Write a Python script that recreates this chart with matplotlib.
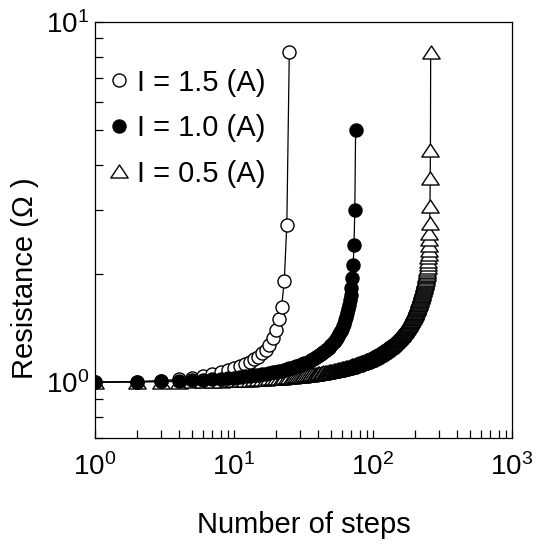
import numpy as np
import matplotlib
matplotlib.use('Agg')
import matplotlib.pyplot as plt
from matplotlib.lines import Line2D
from matplotlib.path import Path
from matplotlib.ticker import LogLocator, NullFormatter

plt.rcParams['font.family'] = ['Liberation Sans', 'DejaVu Sans']

# Resistance (ohm) at each step (step = 1, 2, 3, ...)
r_15 = [1.000, 1.004, 1.010, 1.018, 1.028, 1.040, 1.053, 1.067, 1.081, 1.095,
        1.109, 1.124, 1.140, 1.158, 1.178, 1.202, 1.232, 1.272, 1.330, 1.400,
        1.495, 1.615, 1.910, 2.740, 8.260]

r_10 = [1.000, 1.003, 1.006, 1.009, 1.013, 1.016, 1.019, 1.023, 1.026, 1.030,
        1.033, 1.037, 1.040, 1.044, 1.048, 1.052, 1.056, 1.060, 1.064, 1.069,
        1.073, 1.077, 1.082, 1.087, 1.092, 1.096, 1.101, 1.107, 1.112, 1.117,
        1.123, 1.128, 1.134, 1.140, 1.146, 1.153, 1.159, 1.166, 1.173, 1.180,
        1.188, 1.196, 1.203, 1.212, 1.220, 1.229, 1.239, 1.248, 1.258, 1.269,
        1.280, 1.291, 1.303, 1.316, 1.329, 1.343, 1.358, 1.374, 1.391, 1.409,
        1.430, 1.455, 1.485, 1.520, 1.555, 1.595, 1.640, 1.690, 1.750, 1.830,
        1.950, 2.110, 2.400, 3.000, 5.020]

r_05 = [1.000, 1.001, 1.003, 1.004, 1.005, 1.007, 1.008, 1.009, 1.011, 1.012,
        1.014, 1.015, 1.017, 1.018, 1.020, 1.021, 1.022, 1.024, 1.025, 1.027,
        1.028, 1.030, 1.031, 1.033, 1.034, 1.036, 1.037, 1.039, 1.040, 1.042,
        1.043, 1.045, 1.046, 1.048, 1.050, 1.051, 1.053, 1.054, 1.056, 1.058,
        1.059, 1.061, 1.063, 1.064, 1.066, 1.068, 1.069, 1.071, 1.073, 1.074,
        1.076, 1.078, 1.080, 1.081, 1.083, 1.085, 1.087, 1.089, 1.090, 1.092,
        1.094, 1.096, 1.098, 1.100, 1.101, 1.103, 1.105, 1.107, 1.109, 1.111,
        1.113, 1.115, 1.117, 1.119, 1.121, 1.123, 1.125, 1.127, 1.129, 1.131,
        1.133, 1.135, 1.137, 1.139, 1.141, 1.143, 1.146, 1.148, 1.150, 1.152,
        1.154, 1.156, 1.159, 1.161, 1.163, 1.166, 1.168, 1.170, 1.173, 1.175,
        1.177, 1.180, 1.182, 1.185, 1.187, 1.190, 1.192, 1.195, 1.197, 1.200,
        1.202, 1.205, 1.208, 1.210, 1.213, 1.216, 1.218, 1.221, 1.224, 1.226,
        1.229, 1.232, 1.235, 1.238, 1.241, 1.244, 1.246, 1.249, 1.252, 1.255,
        1.258, 1.261, 1.264, 1.268, 1.271, 1.274, 1.277, 1.280, 1.284, 1.287,
        1.290, 1.293, 1.297, 1.300, 1.304, 1.307, 1.311, 1.314, 1.318, 1.321,
        1.325, 1.329, 1.332, 1.336, 1.340, 1.344, 1.348, 1.352, 1.355, 1.359,
        1.363, 1.367, 1.371, 1.376, 1.380, 1.384, 1.389, 1.393, 1.397, 1.402,
        1.406, 1.411, 1.415, 1.420, 1.425, 1.430, 1.435, 1.439, 1.444, 1.449,
        1.454, 1.459, 1.465, 1.470, 1.476, 1.481, 1.487, 1.492, 1.498, 1.503,
        1.509, 1.515, 1.521, 1.527, 1.534, 1.540, 1.546, 1.552, 1.559, 1.565,
        1.571, 1.578, 1.585, 1.592, 1.599, 1.606, 1.614, 1.621, 1.629, 1.636,
        1.644, 1.652, 1.660, 1.669, 1.677, 1.686, 1.695, 1.704, 1.713, 1.722,
        1.731, 1.741, 1.751, 1.761, 1.771, 1.782, 1.792, 1.803, 1.814, 1.826,
        1.837, 1.849, 1.861, 1.874, 1.886, 1.899, 1.912, 1.926, 1.940, 1.956,
        1.971, 1.987, 2.003, 2.019, 2.036, 2.060, 2.090, 2.130, 2.170, 2.220,
        2.270, 2.330, 2.400, 2.490, 2.600, 2.770, 3.090, 3.690, 4.420, 8.260]

labels = ['I = 1.5 (A)', 'I = 1.0 (A)', 'I = 0.5 (A)']
x_ticks = [1, 10, 100, 1000]
x_tick_labels = [r'$\mathregular{10^{0}}$', r'$\mathregular{10^{1}}$',
                 r'$\mathregular{10^{2}}$', r'$\mathregular{10^{3}}$']
y_ticks = [1, 10]
y_tick_labels = [r'$\mathregular{10^{0}}$', r'$\mathregular{10^{1}}$']

fig = plt.figure(figsize=(5.36, 5.44), dpi=100)
ax = fig.add_axes([0.1772, 0.1949, 0.778, 0.7647])

# flat triangle (wider than tall), closed so it gets a white fill
tri = Path([(-1, -0.75), (1, -0.75), (0, 0.75), (-1, -0.75)], closed=True)

circle_size = 9.4
tri_size = 12.5
edge = 1.0

# draw order: 0.5 A at the bottom, 1.0 A on top
series = [
    (r_05, tri, 'white', tri_size, 1),
    (r_15, 'o', 'white', circle_size, 2),
    (r_10, 'o', 'black', circle_size, 3),
]
for values, marker, face, size, z in series:
    steps = np.arange(1, len(values) + 1)
    ax.plot(steps, values, color='black', linewidth=0.9, marker=marker,
            markersize=size, markerfacecolor=face, markeredgecolor='black',
            markeredgewidth=edge, zorder=z)

ax.set_xscale('log')
ax.set_yscale('log')
ax.set_xlim(1, 1000)
ax.set_ylim(0.7, 10)

ax.set_xticks(x_ticks)
ax.set_xticklabels(x_tick_labels)
ax.set_yticks(y_ticks)
ax.set_yticklabels(y_tick_labels)
ax.xaxis.set_minor_locator(LogLocator(base=10, subs=np.arange(2, 10)))
ax.yaxis.set_minor_locator(LogLocator(base=10, subs=np.arange(2, 10)))
ax.xaxis.set_minor_formatter(NullFormatter())
ax.yaxis.set_minor_formatter(NullFormatter())

ax.tick_params(which='both', direction='in', top=False, right=False, width=0.9)
ax.tick_params(which='major', length=6, labelsize=20)
ax.tick_params(axis='x', which='major', pad=11)
ax.tick_params(axis='y', which='major', pad=4)
ax.tick_params(which='minor', length=5.5)
for spine in ax.spines.values():
    spine.set_linewidth(0.9)

ax.set_xlabel('Number of steps', fontsize=21)
ax.set_ylabel('Resistance (\u03a9 )', fontsize=21)
ax.xaxis.set_label_coords(0.5, -0.175)
ax.yaxis.set_label_coords(-0.135, 0.385)

handles = [
    Line2D([], [], linestyle='none', marker='o', markersize=circle_size,
           markerfacecolor='white', markeredgecolor='black', markeredgewidth=edge),
    Line2D([], [], linestyle='none', marker='o', markersize=circle_size,
           markerfacecolor='black', markeredgecolor='black', markeredgewidth=edge),
    Line2D([], [], linestyle='none', marker=tri, markersize=tri_size,
           markerfacecolor='white', markeredgecolor='black', markeredgewidth=edge),
]
ax.legend(handles, labels, loc='upper left', bbox_to_anchor=(0.037, 0.888),
          frameon=False, fontsize=21, handlelength=0.6, handletextpad=0.3,
          labelspacing=0.6, borderaxespad=0, borderpad=0)

plt.savefig('out.png', dpi=100)
